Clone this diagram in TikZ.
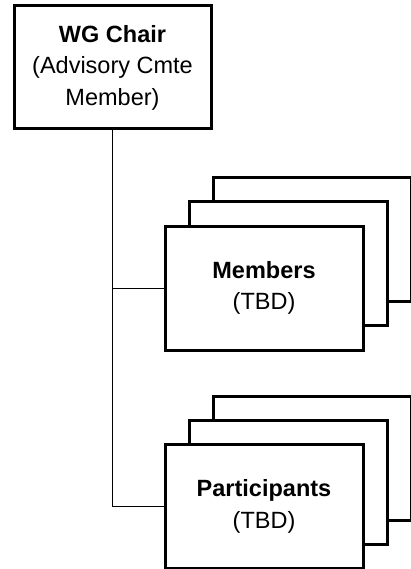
\documentclass[tikz,border=0pt]{standalone}
\usepackage{fontspec}
\setmainfont{Liberation Sans}
\begin{document}
\begin{tikzpicture}[x=1pt,y=-1pt,
  orgbox/.style={draw=black, line width=3pt, fill=white, minimum width=198pt, minimum height=124pt,
    inner sep=0pt, align=center, font=\fontsize{23.5}{31.5}\selectfont},
  link/.style={draw=black, line width=0.9pt}]
\useasboundingbox (0,0) rectangle (410,569);
% top box
\node[orgbox, minimum width=197pt, minimum height=123pt] (chair) at (112.5,67.5)
  {\textbf{WG Chair}\\(Advisory Cmte\\Member)};
% members stack
\node[orgbox] (mback) at (312,239.5) {};
\node[orgbox] (mmid) at (288,263.5) {};
\node[orgbox] (members) at (264,288) {\textbf{Members}\\(TBD)};
% participants stack
\node[orgbox] (pback) at (312,458.5) {};
\node[orgbox] (pmid) at (288,482.5) {};
\node[orgbox] (participants) at (264,506.5) {\textbf{Participants}\\(TBD)};
% connectors
\draw[link] (chair.south) |- (members.west);
\draw[link] (chair.south) |- (participants.west);
\end{tikzpicture}
\end{document}
